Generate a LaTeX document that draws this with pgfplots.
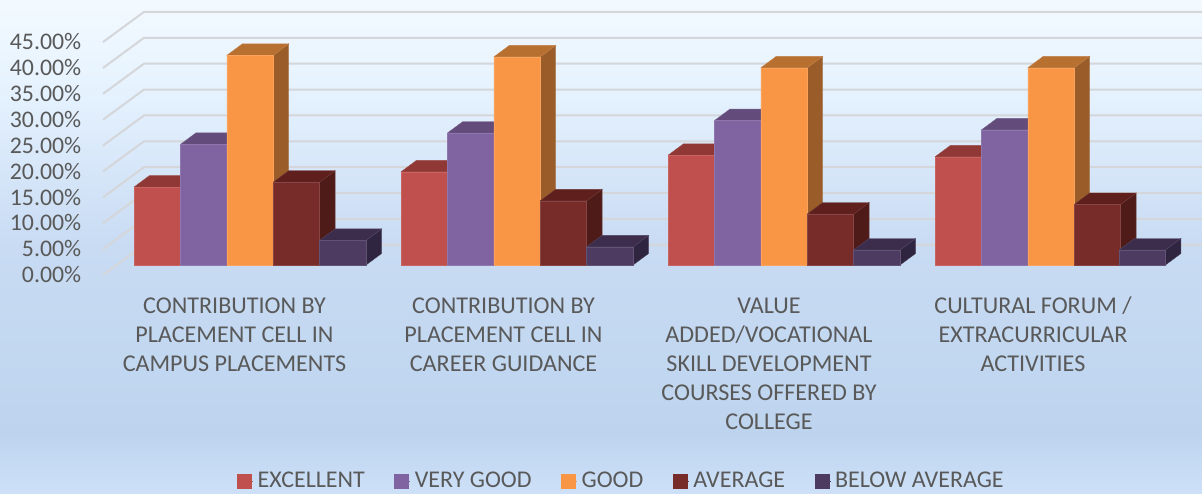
\documentclass[border=0pt]{standalone}
\usepackage{pgfplots}
\pgfplotsset{compat=1.18}
\usepackage{fontspec}
\setmainfont{Carlito}

\definecolor{txt}{HTML}{595959}
\definecolor{gridc}{HTML}{D4D6DA}
% front, top and side of each series
\definecolor{exF}{HTML}{C0504D}\definecolor{exT}{HTML}{903835}\definecolor{exS}{HTML}{843331}
\definecolor{vgF}{HTML}{8064A2}\definecolor{vgT}{HTML}{634C7C}\definecolor{vgS}{HTML}{574370}
\definecolor{goF}{HTML}{F99646}\definecolor{goT}{HTML}{B87030}\definecolor{goS}{HTML}{9A5D29}
\definecolor{avF}{HTML}{772C2A}\definecolor{avT}{HTML}{5E1F1D}\definecolor{avS}{HTML}{4F1B19}
\definecolor{baF}{HTML}{4D3B62}\definecolor{baT}{HTML}{3C2D4D}\definecolor{baS}{HTML}{2F2540}

\definecolor{bg0}{HTML}{F3FAFF}
\definecolor{bg1}{HTML}{E4F1FE}
\definecolor{bg2}{HTML}{C8DBF3}
\definecolor{bg3}{HTML}{BED4EE}
\definecolor{bg4}{HTML}{CDE0F8}
\pgfdeclareverticalshading{chartbg}{100bp}{
  color(0bp)=(bg4); color(25bp)=(bg4); color(31bp)=(bg3);
  color(50bp)=(bg2); color(65bp)=(bg1); color(75bp)=(bg0); color(100bp)=(bg0)}

% x is in image pixels, y is the value in percent
\newcommand{\threedbar}[3]{%
  \pgfmathsetmacro{\xa}{#1+46.4}%
  \pgfmathsetmacro{\xb}{#1+15.5}%
  \pgfmathsetmacro{\xc}{#1+61.9}%
  \pgfmathsetmacro{\yt}{#2+2.22}%
  \addplot[forget plot,fill=#3S,draw=#3S!88!white,line width=.2pt] coordinates {(\xa,0) (\xc,2.22) (\xc,\yt) (\xa,#2) (\xa,0)};
  \addplot[forget plot,fill=#3T,draw=#3T!88!white,line width=.2pt] coordinates {(#1,#2) (\xa,#2) (\xc,\yt) (\xb,\yt) (#1,#2)};
  \addplot[forget plot,fill=#3F,draw=#3F!88!white,line width=.2pt] coordinates {(#1,0) (\xa,0) (\xa,#2) (#1,#2) (#1,0)};
}
\newcommand{\gridline}[1]{%
  \pgfmathsetmacro{\ya}{#1-1.93}%
  \pgfmathsetmacro{\yb}{#1+3.9}%
  \addplot[forget plot,gridc,line width=1pt] coordinates {(103,\ya) (144,\yb) (1202,\yb)};
}

\begin{document}
\begin{tikzpicture}
\path[use as bounding box] (0,-109pt) rectangle (601pt,137.5pt);
\shade[shading=chartbg] (0,-109pt) rectangle (601pt,137.5pt);
\begin{axis}[
    at={(0,0)}, anchor=south west,
    scale only axis,
    width=601pt, height=137.5pt,
    xmin=0, xmax=1202, ymin=-1.93, ymax=51.2,
    clip=false,
    axis line style={draw=none},
    tick style={draw=none},
    ytick={0,5,...,45},
    yticklabel={\pgfmathprintnumber[fixed,fixed zerofill,precision=2,assume math mode=true]{\tick}\%},
    y tick label style={font=\fontsize{11.9}{14}\selectfont,text=txt,inner sep=0pt,xshift=40.8pt,yshift=-4.85pt},
    xtick={234.5,503.5,769,1033},
    xticklabels={
      \strut CONTRIBUTION BY\\PLACEMENT CELL IN\\CAMPUS PLACEMENTS,
      \strut CONTRIBUTION BY\\PLACEMENT CELL IN\\CAREER GUIDANCE,
      \strut VALUE\\ADDED/VOCATIONAL\\SKILL DEVELOPMENT\\COURSES OFFERED BY\\COLLEGE,
      \strut CULTURAL FORUM /\\EXTRACURRICULAR\\ACTIVITIES},
    x tick label style={font=\fontsize{12.05}{14.5}\selectfont,text=txt,align=center,anchor=north,inner sep=0pt,yshift=-9pt},
    legend columns=5,
    legend cell align=left,
    legend style={at={(axis cs:622.5,-41.8)},anchor=center,draw=none,fill=none,inner sep=0pt,
      font=\fontsize{12}{14}\selectfont,text=txt,
      /tikz/every even column/.append style={column sep=12.8pt}},
    legend image code/.code={\fill[#1] (0pt,-3.5pt) rectangle (7pt,3.5pt);\path (0pt,0pt) -- (7.8pt,0pt);},
]
\gridline{0}\gridline{5}\gridline{10}\gridline{15}\gridline{20}
\gridline{25}\gridline{30}\gridline{35}\gridline{40}\gridline{45}

% EXCELLENT
\threedbar{134}{15.06}{ex}
\threedbar{401}{18.0}{ex}
\threedbar{668}{21.2}{ex}
\threedbar{935}{20.9}{ex}
% VERY GOOD
\threedbar{180.4}{23.3}{vg}
\threedbar{447.4}{25.5}{vg}
\threedbar{714.4}{27.9}{vg}
\threedbar{981.4}{26.1}{vg}
% GOOD
\threedbar{226.8}{40.5}{go}
\threedbar{493.8}{40.2}{go}
\threedbar{760.8}{38.1}{go}
\threedbar{1027.8}{38.1}{go}
% AVERAGE
\threedbar{273.2}{16.0}{av}
\threedbar{540.2}{12.4}{av}
\threedbar{807.2}{9.85}{av}
\threedbar{1074.2}{11.7}{av}
% BELOW AVERAGE
\threedbar{319.6}{4.75}{ba}
\threedbar{586.6}{3.5}{ba}
\threedbar{853.6}{2.9}{ba}
\threedbar{1119}{2.9}{ba}

\addlegendimage{exF}\addlegendentry{EXCELLENT}
\addlegendimage{vgF}\addlegendentry{VERY GOOD}
\addlegendimage{goF}\addlegendentry{GOOD}
\addlegendimage{avF}\addlegendentry{AVERAGE}
\addlegendimage{baF}\addlegendentry{BELOW AVERAGE}
\end{axis}
\end{tikzpicture}
\end{document}
